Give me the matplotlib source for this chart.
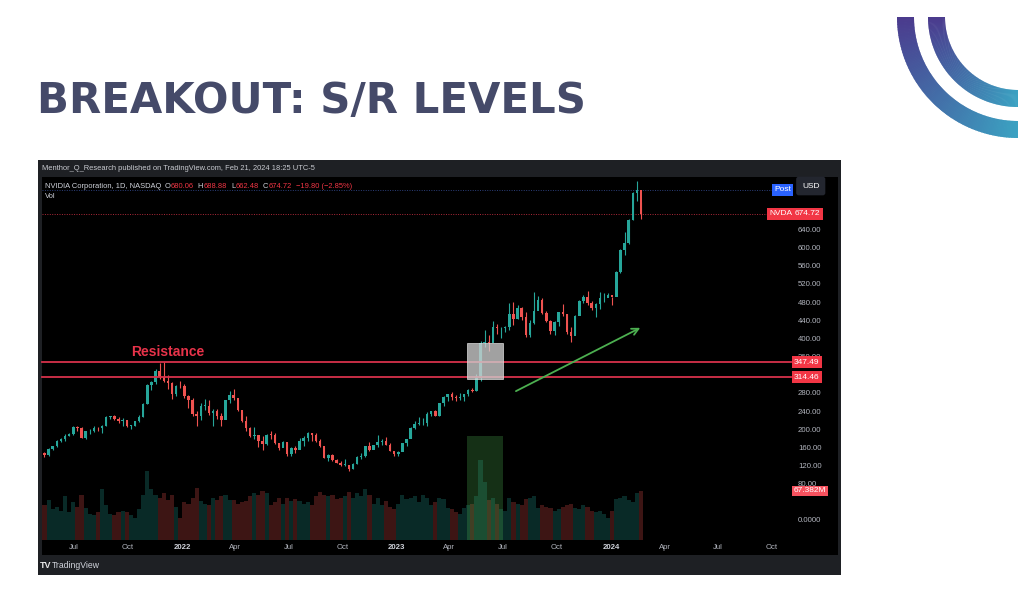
import matplotlib
matplotlib.use('Agg')
import matplotlib.pyplot as plt
import matplotlib.dates as mdates
import matplotlib.transforms as mtransforms
from matplotlib.patches import Rectangle, Wedge
import numpy as np
from datetime import date, timedelta

plt.rcParams['font.family'] = ['Liberation Sans', 'DejaVu Sans']

# ---------------- data (weekly NVDA candles) ----------------
first_week = date(2021, 5, 10)
first_open = 148.0

closes_2021 = [143.5, 156, 162, 174.6, 178, 186, 190, 204, 202, 181.6, 195, 195, 203, 202, 208, 226, 228,
               222, 219, 220, 207, 208, 218, 227, 255, 297, 303, 329, 315, 306, 302, 277, 296, 294]
highs_2021 = [150, 158, 164, 177, 180, 190, 192, 206, 208, 205, 196, 200, 207, 205, 210, 228, 230,
              231, 226, 224, 220, 210, 219, 231, 258, 299, 307, 332, 346, 347, 320, 303, 298, 307]
lows_2021 = [138, 140, 154, 160, 171, 174, 184, 188, 196, 180, 178, 189, 193, 197, 191, 206, 222,
             220, 213, 206, 204, 200, 206, 215, 226, 255, 286, 299, 310, 303, 288, 266, 274, 290]

closes_2022 = [272, 265, 233, 229, 251, 251, 236, 241, 229, 220, 264, 276, 268, 243, 217, 202, 185, 187,
               175, 167, 188, 187, 169, 159, 171, 145, 158, 154, 173, 181, 191, 188, 174, 163, 137, 143,
               132, 125, 121, 121, 113, 124, 138, 141, 163, 154, 165, 171, 175, 166, 153, 146]
highs_2022 = [300, 276, 268, 240, 258, 266, 265, 245, 245, 236, 265, 285, 289, 265, 240, 228, 204, 204,
              186, 184, 190, 195, 191, 170, 175, 170, 160, 164, 180, 184, 193, 192, 192, 178, 160, 146,
              145, 135, 129, 135, 122, 126, 141, 147, 164, 172, 166, 187, 178, 183, 170, 148]
lows_2022 = [268, 246, 230, 208, 220, 242, 231, 208, 222, 208, 223, 258, 264, 240, 216, 196, 183, 179,
             161, 155, 165, 178, 168, 155, 160, 142, 140, 148, 158, 164, 175, 173, 172, 161, 136, 131,
             130, 125, 120, 118, 108, 112, 123, 134, 138, 153, 159, 160, 165, 165, 151, 140]

closes_2023 = [149, 169, 178, 203, 211, 213, 214, 233, 239, 229, 257, 270, 278, 270, 268, 271, 277, 287,
               283, 312, 389, 393, 390, 426, 422, 423, 425, 454, 443, 467, 446, 408, 433, 460, 485, 455,
               439, 416, 435, 457, 454, 413, 405, 450, 483, 492, 478, 467, 475, 488, 489, 495]
highs_2023 = [151, 170, 178, 204, 217, 226, 225, 238, 240, 242, 258, 272, 278, 281, 276, 280, 278, 289,
              291, 321, 394, 419, 408, 439, 432, 425, 428, 478, 480, 473, 470, 457, 441, 502, 494, 489,
              461, 440, 438, 458, 476, 454, 425, 451, 484, 496, 505, 483, 477, 501, 500, 500]
lows_2023 = [140, 151, 163, 180, 200, 210, 210, 208, 228, 228, 228, 252, 263, 265, 262, 265, 262, 273,
             282, 285, 306, 380, 373, 394, 410, 401, 415, 418, 430, 442, 441, 403, 403, 432, 470, 454,
             435, 409, 407, 427, 450, 410, 392, 409, 452, 478, 474, 463, 448, 464, 481, 494]

closes_2024 = [490, 547, 595, 610, 661, 721, 726, 674.72]
highs_2024 = [492, 548, 596, 634, 662, 722, 746, 700]
lows_2024 = [473, 494, 544, 584, 608, 660, 702, 662.48]

# average daily volume per week, millions
volume_2021 = [48, 55, 42, 45, 40, 60, 38, 52, 46, 62, 44, 36, 34, 38, 70, 48, 36, 34, 38, 40, 38, 34,
               30, 42, 62, 95, 70, 62, 58, 64, 55, 62, 45, 30]
volume_2022 = [52, 50, 58, 72, 54, 50, 48, 58, 55, 60, 62, 55, 55, 50, 52, 54, 60, 64, 62, 68, 64, 48,
               52, 58, 50, 58, 54, 56, 54, 50, 52, 48, 60, 66, 62, 60, 62, 56, 58, 60, 66, 58, 64, 60,
               70, 62, 50, 58, 48, 54, 46, 42]
volume_2023 = [50, 62, 56, 58, 60, 52, 62, 58, 48, 52, 58, 56, 44, 42, 38, 36, 44, 48, 50, 60, 110, 80,
               55, 58, 50, 42, 40, 58, 52, 50, 48, 56, 58, 60, 44, 48, 46, 44, 40, 42, 46, 48, 50, 44,
               42, 48, 46, 40, 38, 40, 36, 30]
volume_2024 = [40, 56, 58, 60, 55, 52, 64, 67.382]

legend_title = 'NVIDIA Corporation, 1D, NASDAQ'
legend_ohlc = [('O', '680.06'), ('H', '688.88'), ('L', '662.48'), ('C', '674.72')]
legend_change = '\u221219.80 (\u22122.85%)'

resistance_levels = [347.49, 314.46]
last_price = 674.72
post_price = 727.0
volume_last_label = '67.382M'
price_ticks = [0, 80, 120, 160, 200, 240, 280, 360, 400, 440, 480, 520, 560, 600, 640]
time_ticks = [date(2021, 7, 1), date(2021, 10, 1), date(2022, 1, 1), date(2022, 4, 1), date(2022, 7, 1),
              date(2022, 10, 1), date(2023, 1, 1), date(2023, 4, 1), date(2023, 7, 1), date(2023, 10, 1),
              date(2024, 1, 1), date(2024, 4, 1), date(2024, 7, 1), date(2024, 10, 1)]
time_labels = ['Jul', 'Oct', '2022', 'Apr', 'Jul', 'Oct', '2023', 'Apr', 'Jul', 'Oct', '2024', 'Apr',
               'Jul', 'Oct']
breakout_window = (date(2023, 5, 1), date(2023, 7, 1))
breakout_box_prices = (310, 389)
volume_box_top = 185
arrow_start = (date(2023, 7, 19), 281)
arrow_end = (date(2024, 2, 24), 426)
resistance_label_pos = (date(2021, 12, 8), 369)

# ---------------- assemble ----------------
closes = np.array(closes_2021 + closes_2022 + closes_2023 + closes_2024, dtype=float)
highs = np.array(highs_2021 + highs_2022 + highs_2023 + highs_2024, dtype=float)
lows = np.array(lows_2021 + lows_2022 + lows_2023 + lows_2024, dtype=float)
vols = np.array(volume_2021 + volume_2022 + volume_2023 + volume_2024, dtype=float)
opens = np.concatenate([[first_open], closes[:-1]])
weeks = [first_week + timedelta(weeks=i) for i in range(len(closes))]
xw = mdates.date2num(weeks) + 2.0

UP = '#26a69a'
DOWN = '#ef5350'
RED = '#f23645'

W, H = 1024, 606
fig = plt.figure(figsize=(W / 100, H / 100), dpi=100)
fig.patch.set_facecolor('white')
renderer = fig.canvas.get_renderer()

# background / slide layer in pixel coordinates
bg = fig.add_axes([0, 0, 1, 1], zorder=0)
bg.set_xlim(0, W)
bg.set_ylim(H, 0)
bg.axis('off')

bg.text(37, 113, 'BREAKOUT: S/R LEVELS', fontsize=30.2, fontweight='bold', family='DejaVu Sans',
        color='#454a69', va='baseline', ha='left')

# logo arcs
cx, cy = 1018, 17
c_purple = np.array([0x4b, 0x3a, 0x8d]) / 255
c_teal = np.array([0x3b, 0xa2, 0xc2]) / 255
n = 120
for r, w in [(121, 17), (90, 17)]:
    for i in range(n):
        a0 = 90 + 90 * i / n
        a1 = 90 + 90 * (i + 1) / n + 0.4
        t = i / n
        col = c_teal * (1 - t) + c_purple * t
        bg.add_patch(Wedge((cx, cy), r, a0, min(a1, 180), width=w, fc=col, ec='none'))

# chart card
bg.add_patch(Rectangle((38, 160), 803, 415, fc='#1e2024', ec='none'))
bg.add_patch(Rectangle((42, 177), 796, 378, fc='#000000', ec='none'))
bg.text(42, 168.5, 'Menthor_Q_Research published on TradingView.com, Feb 21, 2024 18:25 UTC-5',
        fontsize=5.45, color='#c9cbd1', va='center', ha='left')
bg.text(40, 566, 'TV', fontsize=6.5, fontweight='bold', color='#e8e8e8', va='center', ha='left')
bg.text(52, 566, 'TradingView', fontsize=6.2, color='#d1d4dc', va='center', ha='left')


def put(x, y, s, color, gap=0.0):
    t = bg.text(x, y, s, fontsize=5.45, color=color, va='center', ha='left')
    return x + t.get_window_extent(renderer=renderer).width + gap


# legend line (pieces placed one after another)
leg_y = 186
xpos = put(45, leg_y, legend_title, '#d1d4dc', gap=3)
for lab, val in legend_ohlc:
    xpos = put(xpos, leg_y, lab, '#d1d4dc', gap=0.5)
    xpos = put(xpos, leg_y, val, RED, gap=4)
put(xpos, leg_y, legend_change, RED)
bg.text(45, 196, 'Vol', fontsize=5.45, color='#d1d4dc', va='center')

# chart axes
left_px, right_px, top_px, bot_px = 42, 780, 177, 540
rect = [left_px / W, 1 - bot_px / H, (right_px - left_px) / W, (bot_px - top_px) / H]
base = mdates.date2num(date(2022, 1, 1))
px_per_day = 0.5877
xlim = (base + (left_px - 182) / px_per_day, base + (right_px - 182) / px_per_day)
ylim = ((520 - bot_px) / 0.4541, (520 - top_px) / 0.4541)

axv = fig.add_axes(rect, zorder=1)
axv.patch.set_visible(False)
axv.set_xlim(*xlim)
axv.set_ylim(0, 67.382 * (bot_px - top_px) / 49.0)
axv.axis('off')
up = closes >= opens
vcol = np.where(up, UP, DOWN)
axv.bar(xw, vols, width=7.0, color=vcol, alpha=0.26, linewidth=0)

ax = fig.add_axes(rect, zorder=2)
ax.patch.set_visible(False)
ax.set_xlim(*xlim)
ax.set_ylim(*ylim)
for s in ax.spines.values():
    s.set_visible(False)

# candles
ax.vlines(xw, lows, highs, colors=vcol, lw=0.8, zorder=3)
body_lo = np.minimum(opens, closes)
body_h = np.maximum(np.abs(closes - opens), 1.5)
ax.bar(xw, body_h, bottom=body_lo, width=4.2, color=vcol, linewidth=0, zorder=4)

# volume highlight and breakout box
bx0, bx1 = mdates.date2num(breakout_window[0]), mdates.date2num(breakout_window[1])
ax.add_patch(Rectangle((bx0, ylim[0]), bx1 - bx0, volume_box_top - ylim[0], fc='#4caf50', alpha=0.28,
                       ec='none', zorder=1))
ax.add_patch(Rectangle((bx0, breakout_box_prices[0]), bx1 - bx0,
                       breakout_box_prices[1] - breakout_box_prices[0], fc='#d0d0d0', alpha=0.78,
                       ec='#e6e6e6', lw=0.6, zorder=5))

# resistance lines
for lvl in resistance_levels:
    ax.axhline(lvl, xmin=0, xmax=1.015, color='#d8314b', lw=1.3, clip_on=False, zorder=4)

# current price & post lines
ax.axhline(last_price, xmin=0, xmax=0.985, color='#b02a3a', lw=0.7, ls=(0, (1, 1.5)), zorder=2)
ax.axhline(post_price, xmin=0, xmax=0.99, color='#2c3f7a', lw=0.7, ls=(0, (1, 1.5)), zorder=2)

# arrow
ax.annotate('', xy=(mdates.date2num(arrow_end[0]), arrow_end[1]),
            xytext=(mdates.date2num(arrow_start[0]), arrow_start[1]),
            arrowprops=dict(arrowstyle='->', color='#4caf50', lw=1.3, mutation_scale=12), zorder=6)

ax.text(mdates.date2num(resistance_label_pos[0]), resistance_label_pos[1], 'Resistance',
        fontsize=10, fontweight='bold', color='#e8334a', ha='center', va='center', zorder=6)

# axes ticks
ax.yaxis.tick_right()
ax.set_yticks(price_ticks)
ax.set_yticklabels(['0.0000' if v == 0 else f'{v:.2f}' for v in price_ticks])
ax.tick_params(axis='y', length=0, pad=13, labelsize=5.6, labelcolor='#b2b5be')
ax.set_xticks(mdates.date2num(time_ticks))
ax.set_xticklabels(time_labels)
ax.tick_params(axis='x', length=0, pad=2.6, labelsize=5.6, labelcolor='#b2b5be')
for lab in ax.get_xticklabels():
    if lab.get_text().isdigit():
        lab.set_fontweight('bold')
        lab.set_color('#d1d4dc')

# price-axis label boxes
tr = mtransforms.blended_transform_factory(ax.transAxes, ax.transData)


def axis_frac(px):
    return (px - left_px) / (right_px - left_px)


box = dict(boxstyle='square,pad=0.3', ec='none')
for lvl in resistance_levels:
    ax.text(axis_frac(794), lvl, f'{lvl:.2f}', transform=tr, fontsize=6, color='white', ha='left',
            va='center', bbox=dict(box, fc=RED), zorder=7, clip_on=False)
ax.text(axis_frac(769), last_price, 'NVDA', transform=tr, fontsize=6, color='white', ha='left',
        va='center', bbox=dict(box, fc=RED), zorder=7, clip_on=False)
ax.text(axis_frac(795), last_price, f'{last_price:.2f}', transform=tr, fontsize=6, color='white',
        ha='left', va='center', bbox=dict(box, fc=RED), zorder=7, clip_on=False)
ax.text(axis_frac(774), post_price, 'Post', transform=tr, fontsize=6, color='white', ha='left',
        va='center', bbox=dict(box, fc='#2962ff'), zorder=7, clip_on=False)
ax.text(axis_frac(802), (520 - 186) / 0.4541, 'USD', transform=tr, fontsize=6, color='white', ha='left',
        va='center', bbox=dict(boxstyle='round,pad=0.7,rounding_size=0.3', fc='#23262f', ec='none'),
        zorder=7, clip_on=False)
ax.text(axis_frac(794), (520 - 491) / 0.4541, volume_last_label, transform=tr, fontsize=6,
        color='white', ha='left', va='center', bbox=dict(boxstyle='square,pad=0.2', ec='none',
                                                         fc='#f7525f'), zorder=7, clip_on=False)

fig.savefig('out.png', dpi=100, facecolor='white')
